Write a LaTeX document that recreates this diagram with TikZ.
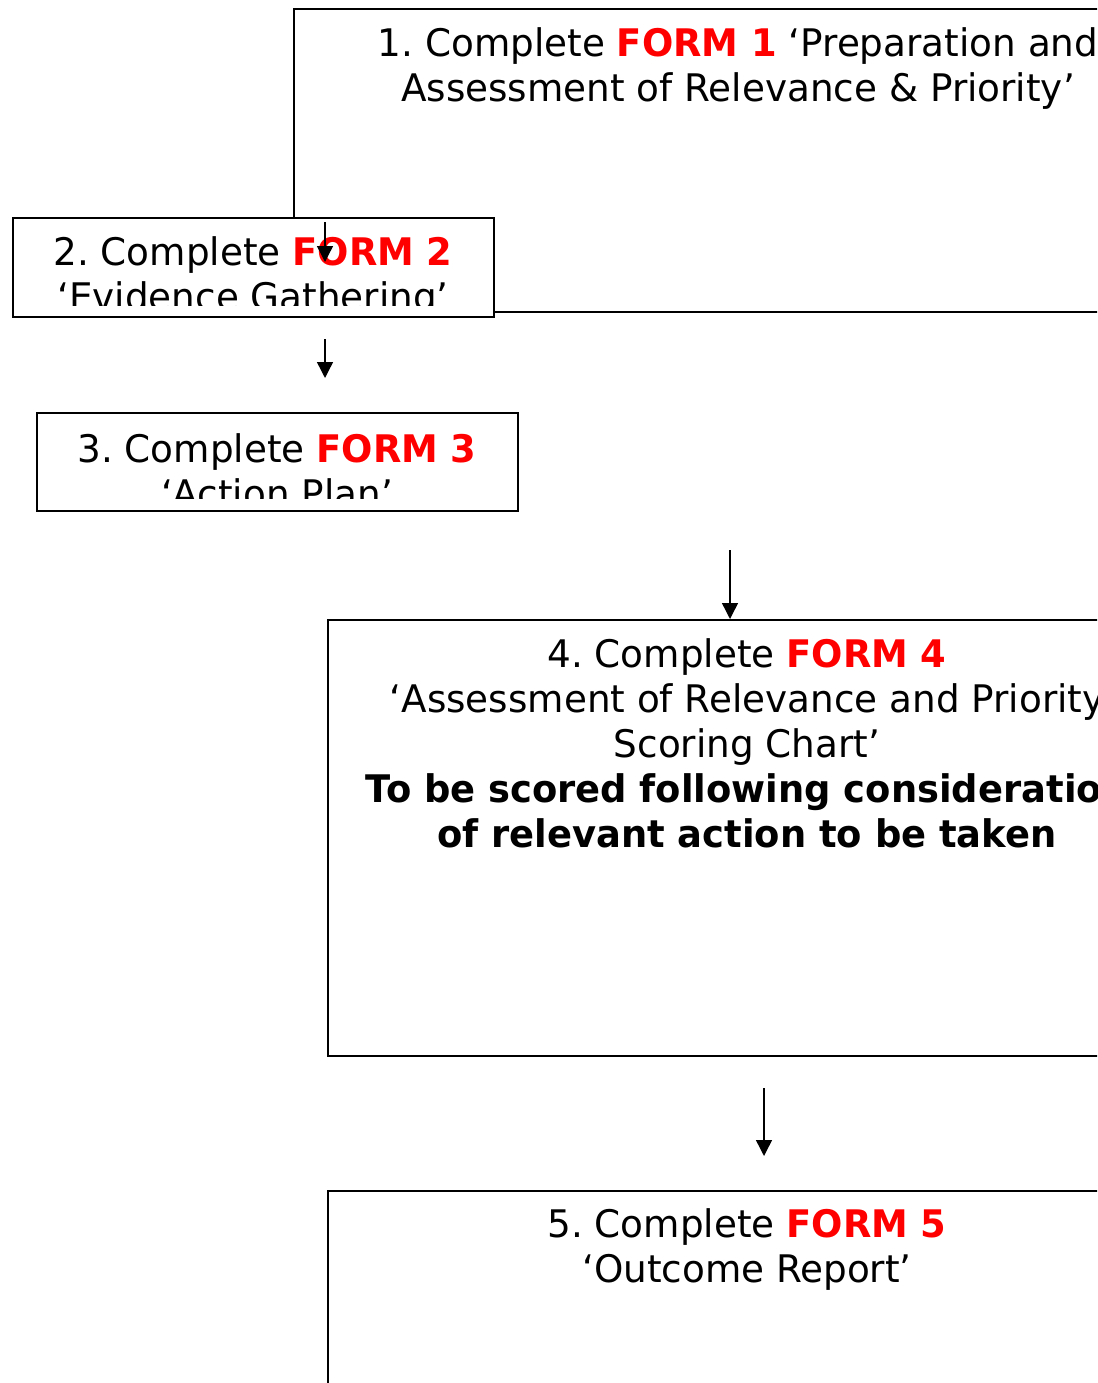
\documentclass[tikz,border=0pt]{standalone}
\usepackage{fontspec}
\setmainfont{DejaVu Sans}[FakeStretch=0.982, BoldFeatures={FakeStretch=0.97}]
\usetikzlibrary{arrows.meta}
\definecolor{formred}{RGB}{255,0,0}
\tikzset{
  box/.style={draw=black, line width=1.8pt, fill=white, rectangle, anchor=north west, inner sep=0pt},
  txt/.style={anchor=base, inner sep=0pt, font=\fontsize{38}{45}\selectfont},
  boldtxt/.style={txt, font=\fontsize{38}{45}\selectfont\bfseries},
  arr/.style={line width=1.4pt, -{Triangle[length=16pt,width=16pt]}},
}
\newcommand{\formlabel}[1]{\textcolor{formred}{\bfseries FORM #1}}
\frenchspacing
\begin{document}
\begin{tikzpicture}[x=1pt,y=-1pt]
\useasboundingbox (0,0) rectangle (1097,1383);
\clip (0,0) rectangle (1097,1383);
% Box 1
\node[box, minimum width=890pt, minimum height=303pt] (b1) at (293,8) {};
\node[txt] (t1a) at (738,57) {1. Complete \formlabel{1} ‘Preparation and};
\node[txt] (t1b) at (738,102) {Assessment of Relevance \& Priority’};
% Box 2
\node[box, minimum width=481pt, minimum height=99pt] (b2) at (12,217) {};
\begin{scope}
  \clip (12,217) rectangle (493,305);
  \node[txt] (t2a) at (253,265) {2. Complete \formlabel{2}};
  \node[txt] (t2b) at (253,310) {‘Evidence Gathering’};
\end{scope}
\coordinate (a1s) at (325,222);
\coordinate (a1e) at (325,262);
\draw[arr] (a1s) -- (a1e);
% arrow 2
\coordinate (a2s) at (325,339);
\coordinate (a2e) at (325,378);
\draw[arr] (a2s) -- (a2e);
% Box 3
\node[box, minimum width=481pt, minimum height=98pt] (b3) at (36,412) {};
\begin{scope}
  \clip (36,412) rectangle (517,498);
  \node[txt] (t3a) at (277,462) {3. Complete \formlabel{3}};
  \node[txt] (t3b) at (277,507) {‘Action Plan’};
\end{scope}
% Box 4
\node[box, minimum width=900pt, minimum height=436pt] (b4) at (327,619) {};
\node[txt] (t4a) at (747,667) {4. Complete \formlabel{4}};
\node[txt] (t4b) at (747,712) {‘Assessment of Relevance and Priority};
\node[txt] (t4c) at (747,757) {Scoring Chart’};
\node[boldtxt] (t4d) at (747,802) {To be scored following consideration};
\node[boldtxt] (t4e) at (747,847) {of relevant action to be taken};
% arrow 3
\coordinate (a3s) at (730,550);
\coordinate (a3e) at (730,619);
\draw[arr] (a3s) -- (a3e);
% arrow 4
\coordinate (a4s) at (764,1088);
\coordinate (a4e) at (764,1156);
\draw[arr] (a4s) -- (a4e);
% Box 5
\node[box, minimum width=900pt, minimum height=300pt] (b5) at (327,1190) {};
\node[txt] (t5a) at (747,1237) {5. Complete \formlabel{5}};
\node[txt] (t5b) at (747,1282) {‘Outcome Report’};
\end{tikzpicture}
\end{document}
